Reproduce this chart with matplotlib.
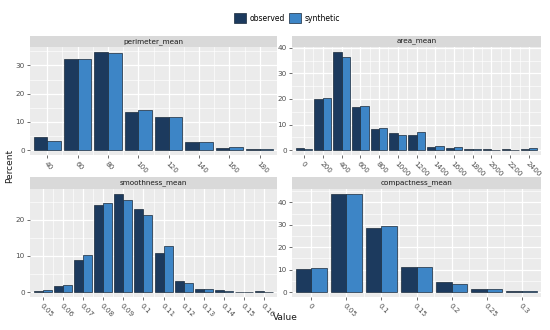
import matplotlib
matplotlib.use("Agg")
import matplotlib.pyplot as plt
from matplotlib.patches import Patch
from matplotlib.ticker import MultipleLocator, FuncFormatter
import numpy as np

# binned percentages
perimeter_bins = [40, 60, 80, 100, 120, 140, 160, 180]
perimeter_obs = [4.6, 32.3, 34.7, 13.5, 11.6, 2.9, 0.7, 0.5]
perimeter_syn = [3.4, 32.4, 34.5, 14.3, 11.7, 2.7, 1.2, 0.5]

area_bins = [0, 200, 400, 600, 800, 1000, 1200, 1400, 1600, 1800, 2000, 2200, 2400]
area_obs = [0.9, 20.0, 38.3, 17.0, 8.1, 6.8, 6.0, 1.4, 1.0, 0.4, 0.3, 0.3, 0.4]
area_syn = [0.5, 20.3, 36.6, 17.4, 8.7, 5.8, 7.1, 1.8, 1.4, 0.4, 0.2, 0.2, 0.8]

smooth_bins = [0.05, 0.06, 0.07, 0.08, 0.09, 0.10, 0.11, 0.12, 0.13, 0.14, 0.15, 0.16]
smooth_obs = [0.3, 1.8, 9.0, 24.2, 27.2, 23.0, 10.8, 3.0, 0.9, 0.5, 0.1, 0.3]
smooth_syn = [0.5, 2.0, 10.4, 24.8, 25.5, 21.4, 12.7, 2.5, 0.8, 0.3, 0.1, 0.1]

compact_bins = [0.0, 0.05, 0.10, 0.15, 0.20, 0.25, 0.30]
compact_obs = [10.5, 43.8, 28.8, 11.2, 4.4, 1.4, 0.5]
compact_syn = [10.9, 43.8, 29.5, 11.3, 3.6, 1.4, 0.3]

OBS_COLOR = "#1c3a5e"
SYN_COLOR = "#3d85c6"
EDGE = "#1a2a3a"

W, H = 550, 330


def px_rect(x0, y0, x1, y1):
    # pixel box (top-left origin) -> figure fraction
    return [x0 / W, 1 - y1 / H, (x1 - x0) / W, (y1 - y0) / H]


def draw_panel(fig, box, title, bins, obs, syn):
    x0, x1, strip_top, panel_top, panel_bottom = box
    strip = fig.add_axes(px_rect(x0, strip_top, x1, panel_top))
    strip.set_facecolor("#d9d9d9")
    strip.set_xticks([])
    strip.set_yticks([])
    for s in strip.spines.values():
        s.set_visible(False)
    strip.text(0.5, 0.5, title, ha="center", va="center", fontsize=5.2,
               color="#1a1a1a", transform=strip.transAxes)

    ax = fig.add_axes(px_rect(x0, panel_top, x1, panel_bottom))
    ax.set_facecolor("#ebebeb")
    for s in ax.spines.values():
        s.set_visible(False)

    bins = np.array(bins)
    bw = bins[1] - bins[0]
    w = 0.45 * bw
    ax.bar(bins - w / 2, obs, width=w, color=OBS_COLOR, edgecolor=EDGE,
           linewidth=0.5, zorder=3)
    ax.bar(bins + w / 2, syn, width=w, color=SYN_COLOR, edgecolor=EDGE,
           linewidth=0.5, zorder=3)

    lo, hi = bins[0] - w, bins[-1] + w
    pad = 0.015 * (hi - lo)
    ax.set_xlim(lo - pad, hi + pad)
    ymax = max(max(obs), max(syn))
    ax.set_ylim(-0.05 * ymax, 1.05 * ymax)

    ax.set_xticks(bins)
    ax.set_xticks(bins[:-1] + bw / 2, minor=True)
    ax.xaxis.set_major_formatter(FuncFormatter(lambda v, p: "%g" % round(v, 4)))
    ax.yaxis.set_major_locator(MultipleLocator(10))
    ax.yaxis.set_minor_locator(MultipleLocator(5))

    ax.grid(which="major", color="white", linewidth=0.9, zorder=0)
    ax.grid(which="minor", color="white", linewidth=0.45, zorder=0)
    ax.set_axisbelow(True)

    ax.tick_params(which="major", length=2.2, width=0.5, color="#333333",
                   labelsize=5.2, labelcolor="#4d4d4d", pad=1.5)
    ax.tick_params(which="minor", length=0)
    for lab in ax.get_xticklabels():
        lab.set_rotation(-45)
        lab.set_rotation_mode("anchor")
        lab.set_ha("left")
        lab.set_va("top")
    return ax


def main():
    fig = plt.figure(figsize=(5.5, 3.3), dpi=100)

    top = (35.7, 47.3, 155)
    bottom = (176.7, 189, 297)
    draw_panel(fig, (30, 277) + top, "perimeter_mean",
               perimeter_bins, perimeter_obs, perimeter_syn)
    draw_panel(fig, (292, 541) + top, "area_mean",
               area_bins, area_obs, area_syn)
    draw_panel(fig, (30, 277) + bottom, "smoothness_mean",
               smooth_bins, smooth_obs, smooth_syn)
    draw_panel(fig, (292, 541) + bottom, "compactness_mean",
               compact_bins, compact_obs, compact_syn)

    fig.text(10 / W, 1 - 166 / H, "Percent", rotation=90, ha="center",
             va="center", fontsize=6.5, color="#1a1a1a")
    fig.text(285 / W, 1 - 318 / H, "Value", ha="center", va="center",
             fontsize=6.5, color="#1a1a1a")

    handles = [
        Patch(facecolor=OBS_COLOR, edgecolor=EDGE, linewidth=0.5, label="observed"),
        Patch(facecolor=SYN_COLOR, edgecolor=EDGE, linewidth=0.5, label="synthetic"),
    ]
    fig.legend(handles=handles, loc="center", bbox_to_anchor=(0.522, 1 - 18 / H),
               ncol=2, frameon=False, fontsize=5.5, handlelength=1.6,
               handleheight=1.6, handletextpad=0.5, columnspacing=0.5)

    fig.savefig("out.png", dpi=100)


if __name__ == "__main__":
    main()
